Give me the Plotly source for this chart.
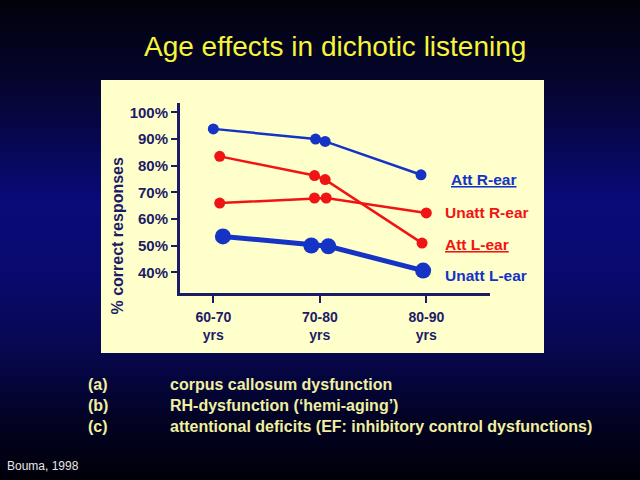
import plotly.graph_objects as go

# age groups and the four curves (x offsets as drawn on the slide)
age_groups = ["60-70", "70-80", "80-90"]
y_ticks = [40, 50, 60, 70, 80, 90, 100]

att_r_x = [0.0, 0.96, 1.05, 1.95]
att_r_y = [93.8, 90.0, 89.1, 76.6]
unatt_r_x = [0.06, 0.95, 1.06, 2.0]
unatt_r_y = [66.0, 67.9, 67.9, 62.3]
att_l_x = [0.06, 0.95, 1.05, 1.96]
att_l_y = [83.5, 76.3, 74.8, 51.0]
unatt_l_x = [0.09, 0.92, 1.08, 1.97]
unatt_l_y = [53.5, 50.1, 49.8, 40.7]

notes = ["corpus callosum dysfunction",
         "RH-dysfunction (\u2018hemi-aging\u2019)",
         "attentional deficits (EF: inhibitory control dysfunctions)"]
note_tags = ["(a)", "(b)", "(c)"]

BLUE = "#1533c4"
RED = "#f01414"
NAVY = "#1c1c66"
FONT = "Arial, Liberation Sans, sans-serif"

W, H = 640, 480
L, R, T, B = 180, 150, 103, 187
pw, ph = W - L - R, H - T - B


def px(x):
    return (x - L) / pw


def py(y):
    return (H - B - y) / ph


fig = go.Figure()
fig.add_trace(go.Scatter(x=att_r_x, y=att_r_y, mode="lines+markers",
                         line=dict(color=BLUE, width=2.5), marker=dict(size=11, color=BLUE)))
fig.add_trace(go.Scatter(x=unatt_r_x, y=unatt_r_y, mode="lines+markers",
                         line=dict(color=RED, width=2.5), marker=dict(size=11, color=RED)))
fig.add_trace(go.Scatter(x=att_l_x, y=att_l_y, mode="lines+markers",
                         line=dict(color=RED, width=2.5), marker=dict(size=11, color=RED)))
fig.add_trace(go.Scatter(x=unatt_l_x, y=unatt_l_y, mode="lines+markers",
                         line=dict(color=BLUE, width=5), marker=dict(size=16, color=BLUE)))

# background gradient (dark top, blue middle, dark bottom)
stops = [(0, (2, 2, 12)), (100, (6, 6, 55)), (200, (10, 10, 122)), (270, (10, 10, 112)),
         (350, (8, 8, 80)), (420, (3, 3, 36)), (480, (0, 0, 10))]
shapes = []
step = 8
for y0 in range(0, H, step):
    ym = y0 + step / 2
    for (a, ca), (b, cb) in zip(stops[:-1], stops[1:]):
        if a <= ym <= b:
            t = (ym - a) / (b - a)
            c = tuple(int(ca[i] + (cb[i] - ca[i]) * t) for i in range(3))
            break
    shapes.append(dict(type="rect", xref="paper", yref="paper", layer="below",
                       x0=px(0), x1=px(W), y0=py(y0 + step + 0.5), y1=py(y0),
                       fillcolor="rgb(%d,%d,%d)" % c, line_width=0))
# beige panel
shapes.append(dict(type="rect", xref="paper", yref="paper", layer="below",
                   x0=px(101), x1=px(544), y0=py(353), y1=py(80),
                   fillcolor="#ffffcc", line_width=0))

ann = [
    dict(text="Age effects in dichotic listening", x=px(335), y=py(47),
         font=dict(size=28, color="#f5f53a")),
    dict(text="<b>% correct responses</b>", x=px(106), y=py(236), textangle=-90,
         font=dict(size=16, color=NAVY)),
    dict(text="<b><u>Att R-ear</u></b>", x=px(449), y=py(179), xanchor="left",
         font=dict(size=15.5, color=BLUE)),
    dict(text="<b>Unatt R-ear</b>", x=px(443), y=py(212), xanchor="left",
         font=dict(size=15.5, color=RED)),
    dict(text="<b><u>Att L-ear</u></b>", x=px(443), y=py(244), xanchor="left",
         font=dict(size=15.5, color=RED)),
    dict(text="<b>Unatt L-ear</b>", x=px(443), y=py(275), xanchor="left",
         font=dict(size=15.5, color=BLUE)),
    dict(text="Bouma, 1998", x=px(5), y=py(466), xanchor="left",
         font=dict(size=12, color="#e6e6e6")),
]
for i, (tag, note) in enumerate(zip(note_tags, notes)):
    yy = 384 + 21 * i
    ann.append(dict(text="<b>%s</b>" % tag, x=px(86), y=py(yy), xanchor="left",
                    font=dict(size=16, color="#f0f0a0")))
    ann.append(dict(text="<b>%s</b>" % note, x=px(168), y=py(yy), xanchor="left",
                    font=dict(size=16, color="#f0f0a0")))
for a in ann:
    a.update(xref="paper", yref="paper", showarrow=False, yanchor="middle")

fig.update_layout(
    width=W, height=H, margin=dict(l=L, r=R, t=T, b=B, autoexpand=False),
    paper_bgcolor="#05052a", plot_bgcolor="rgba(0,0,0,0)",
    showlegend=False, shapes=shapes, annotations=ann,
    font=dict(family=FONT),
)
fig.update_xaxes(range=[-0.313, 2.598], showgrid=False, zeroline=False,
                 showline=True, linecolor=NAVY, linewidth=3,
                 tickvals=[0, 1, 2], ticktext=["<b>%s</b><br><b>yrs</b>" % g for g in age_groups],
                 ticks="outside", ticklen=7, tickwidth=2, tickcolor=NAVY,
                 ticklabelstandoff=2, tickfont=dict(size=14, color=NAVY))
fig.update_yaxes(range=[32.3, 103.5], showgrid=False, zeroline=False,
                 showline=True, linecolor=NAVY, linewidth=3,
                 tickvals=y_ticks, ticktext=["<b>%d%%</b>" % v for v in y_ticks],
                 ticks="outside", ticklen=6, tickwidth=2, tickcolor=NAVY,
                 tickfont=dict(size=15, color=NAVY))

fig.write_html("out.html", config={"displayModeBar": False},
               post_script="document.body.style.margin='0';")
